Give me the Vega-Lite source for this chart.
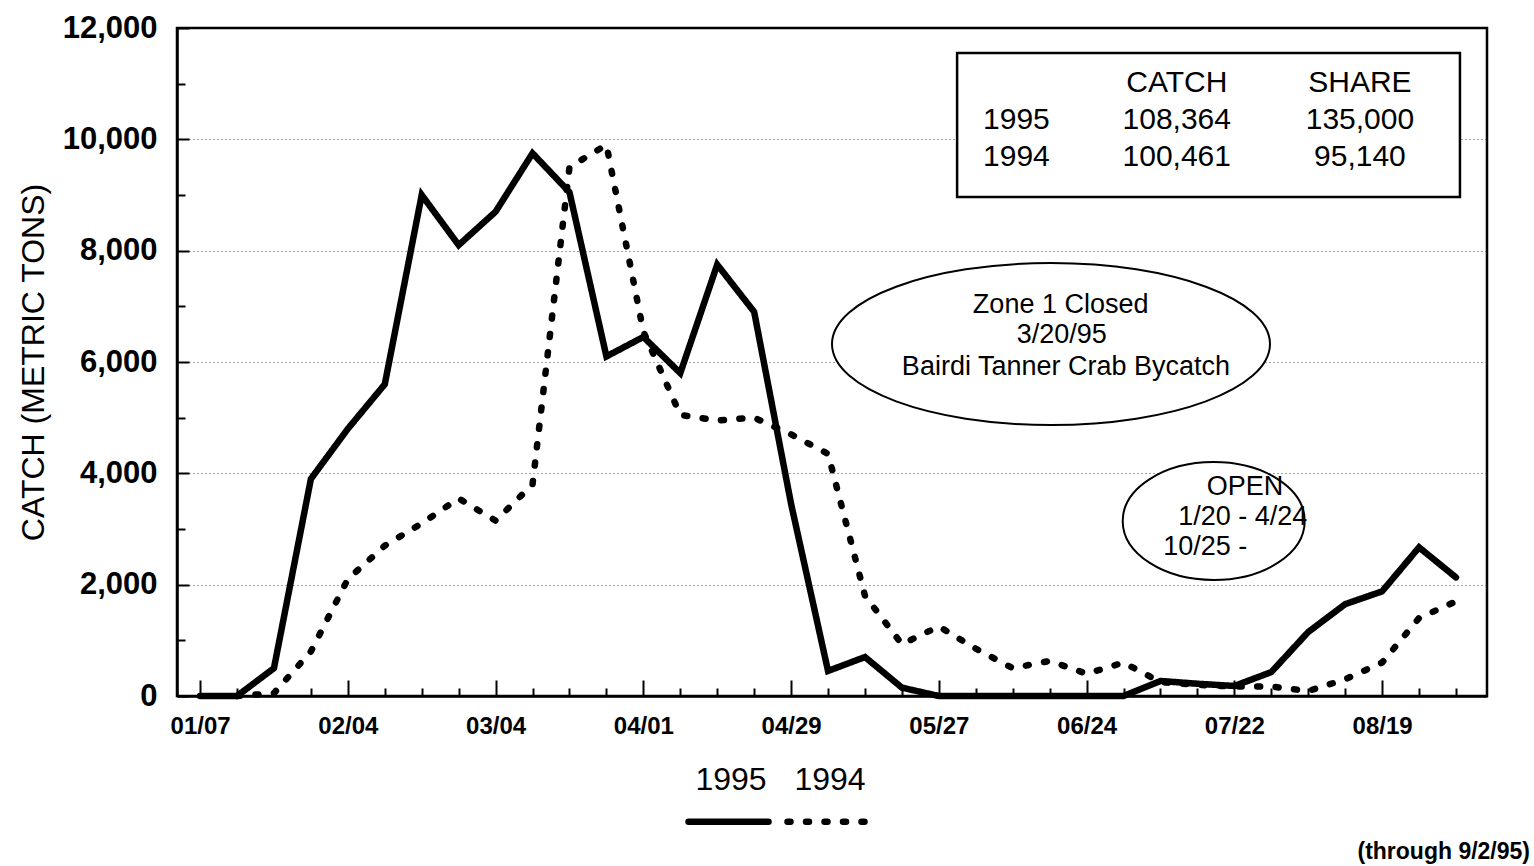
{
  "$schema": "https://vega.github.io/schema/vega-lite/v6.json",
  "width": 1310,
  "height": 668,
  "autosize": "none",
  "padding": {"left": 177, "top": 28, "right": 47, "bottom": 170},
  "background": "white",
  "config": {
    "font": "Liberation Sans",
    "view": {"stroke": "black", "strokeWidth": 2.5},
    "axis": {"domainColor": "black", "domainWidth": 2.5, "tickColor": "black", "tickWidth": 2, "labelColor": "black", "titleColor": "black"}
  },
  "title": {"text": "(through 9/2/95)", "orient": "bottom", "anchor": "end", "frame": "group", "fontSize": 23, "fontWeight": "bold", "color": "black", "dx": 43, "offset": 6},
  "datasets": {
    "catch": [
      {"date": "1995-01-07", "year": "1995", "value": 0},
      {"date": "1995-01-14", "year": "1995", "value": 0},
      {"date": "1995-01-21", "year": "1995", "value": 500},
      {"date": "1995-01-28", "year": "1995", "value": 3900},
      {"date": "1995-02-04", "year": "1995", "value": 4800},
      {"date": "1995-02-11", "year": "1995", "value": 5600},
      {"date": "1995-02-18", "year": "1995", "value": 9000},
      {"date": "1995-02-25", "year": "1995", "value": 8100},
      {"date": "1995-03-04", "year": "1995", "value": 8700},
      {"date": "1995-03-11", "year": "1995", "value": 9750},
      {"date": "1995-03-18", "year": "1995", "value": 9050},
      {"date": "1995-03-25", "year": "1995", "value": 6100},
      {"date": "1995-04-01", "year": "1995", "value": 6450},
      {"date": "1995-04-08", "year": "1995", "value": 5800},
      {"date": "1995-04-15", "year": "1995", "value": 7750},
      {"date": "1995-04-22", "year": "1995", "value": 6900},
      {"date": "1995-04-29", "year": "1995", "value": 3450},
      {"date": "1995-05-06", "year": "1995", "value": 450},
      {"date": "1995-05-13", "year": "1995", "value": 700},
      {"date": "1995-05-20", "year": "1995", "value": 150},
      {"date": "1995-05-27", "year": "1995", "value": 0},
      {"date": "1995-06-03", "year": "1995", "value": 0},
      {"date": "1995-06-10", "year": "1995", "value": 0},
      {"date": "1995-06-17", "year": "1995", "value": 0},
      {"date": "1995-06-24", "year": "1995", "value": 0},
      {"date": "1995-07-01", "year": "1995", "value": 0},
      {"date": "1995-07-08", "year": "1995", "value": 270},
      {"date": "1995-07-15", "year": "1995", "value": 220},
      {"date": "1995-07-22", "year": "1995", "value": 180},
      {"date": "1995-07-29", "year": "1995", "value": 430},
      {"date": "1995-08-05", "year": "1995", "value": 1150},
      {"date": "1995-08-12", "year": "1995", "value": 1650},
      {"date": "1995-08-19", "year": "1995", "value": 1880},
      {"date": "1995-08-26", "year": "1995", "value": 2670},
      {"date": "1995-09-02", "year": "1995", "value": 2130},
      {"date": "1995-01-14", "year": "1994", "value": 0},
      {"date": "1995-01-21", "year": "1994", "value": 50},
      {"date": "1995-01-28", "year": "1994", "value": 800},
      {"date": "1995-02-04", "year": "1994", "value": 2100},
      {"date": "1995-02-11", "year": "1994", "value": 2700},
      {"date": "1995-02-18", "year": "1994", "value": 3100},
      {"date": "1995-02-25", "year": "1994", "value": 3550},
      {"date": "1995-03-04", "year": "1994", "value": 3150},
      {"date": "1995-03-11", "year": "1994", "value": 3800},
      {"date": "1995-03-18", "year": "1994", "value": 9500},
      {"date": "1995-03-25", "year": "1994", "value": 9900},
      {"date": "1995-04-01", "year": "1994", "value": 6550},
      {"date": "1995-04-08", "year": "1994", "value": 5050},
      {"date": "1995-04-15", "year": "1994", "value": 4950},
      {"date": "1995-04-22", "year": "1994", "value": 5000},
      {"date": "1995-04-29", "year": "1994", "value": 4700},
      {"date": "1995-05-06", "year": "1994", "value": 4350},
      {"date": "1995-05-13", "year": "1994", "value": 1800},
      {"date": "1995-05-20", "year": "1994", "value": 930},
      {"date": "1995-05-27", "year": "1994", "value": 1250},
      {"date": "1995-06-03", "year": "1994", "value": 850},
      {"date": "1995-06-10", "year": "1994", "value": 500},
      {"date": "1995-06-17", "year": "1994", "value": 630},
      {"date": "1995-06-24", "year": "1994", "value": 400},
      {"date": "1995-07-01", "year": "1994", "value": 600},
      {"date": "1995-07-08", "year": "1994", "value": 250},
      {"date": "1995-07-15", "year": "1994", "value": 200},
      {"date": "1995-07-22", "year": "1994", "value": 170},
      {"date": "1995-07-29", "year": "1994", "value": 170},
      {"date": "1995-08-05", "year": "1994", "value": 90},
      {"date": "1995-08-12", "year": "1994", "value": 300},
      {"date": "1995-08-19", "year": "1994", "value": 600},
      {"date": "1995-08-26", "year": "1994", "value": 1400},
      {"date": "1995-09-02", "year": "1994", "value": 1700}
    ],
    "box": [
      {"date": "1995-05-30T11:00Z", "date2": "1995-09-02T18:00Z", "value": 11551, "value2": 8964}
    ],
    "ovals": [
      {"name": "zone", "date": "1995-06-17T06:00Z", "value": 6323},
      {"name": "open", "date": "1995-07-18T02:00Z", "value": 3144}
    ],
    "notes": [
      {"group": "table", "date": "1995-07-11T02:00Z", "value": 11012, "label": "CATCH"},
      {"group": "table", "date": "1995-08-14T19:00Z", "value": 11012, "label": "SHARE"},
      {"group": "table", "date": "1995-07-11T02:00Z", "value": 10347, "label": "108,364"},
      {"group": "table", "date": "1995-08-14T19:00Z", "value": 10347, "label": "135,000"},
      {"group": "table", "date": "1995-07-11T02:00Z", "value": 9683, "label": "100,461"},
      {"group": "table", "date": "1995-08-14T19:00Z", "value": 9683, "label": "95,140"},
      {"group": "tableyear", "date": "1995-06-04T09:00Z", "value": 10347, "label": "1995"},
      {"group": "tableyear", "date": "1995-06-04T09:00Z", "value": 9683, "label": "1994"},
      {"group": "zone", "date": "1995-06-19T02:00Z", "value": 7024, "label": "Zone 1 Closed"},
      {"group": "zone", "date": "1995-06-19T07:00Z", "value": 6485, "label": "3/20/95"},
      {"group": "zone", "date": "1995-06-20T02:00Z", "value": 5910, "label": "Bairdi Tanner Crab Bycatch"},
      {"group": "open", "date": "1995-07-24T00:00Z", "value": 3754, "label": "OPEN"},
      {"group": "open", "date": "1995-07-23T14:00Z", "value": 3216, "label": "1/20 - 4/24"},
      {"group": "openleft", "date": "1995-07-08T12:00Z", "value": 2677, "label": "10/25 -"}
    ]
  },
  "encoding": {
    "x": {
      "field": "date",
      "type": "temporal",
      "title": null,
      "scale": {
        "type": "utc",
        "domain": [
          {"year": 1995, "month": 1, "date": 2, "hours": 15, "utc": true},
          {"year": 1995, "month": 9, "date": 7, "hours": 21, "utc": true}
        ]
      },
      "axis": {
        "values": [
          {"year": 1995, "month": 1, "date": 7, "utc": true},
          {"year": 1995, "month": 1, "date": 14, "utc": true},
          {"year": 1995, "month": 1, "date": 21, "utc": true},
          {"year": 1995, "month": 1, "date": 28, "utc": true},
          {"year": 1995, "month": 2, "date": 4, "utc": true},
          {"year": 1995, "month": 2, "date": 11, "utc": true},
          {"year": 1995, "month": 2, "date": 18, "utc": true},
          {"year": 1995, "month": 2, "date": 25, "utc": true},
          {"year": 1995, "month": 3, "date": 4, "utc": true},
          {"year": 1995, "month": 3, "date": 11, "utc": true},
          {"year": 1995, "month": 3, "date": 18, "utc": true},
          {"year": 1995, "month": 3, "date": 25, "utc": true},
          {"year": 1995, "month": 4, "date": 1, "utc": true},
          {"year": 1995, "month": 4, "date": 8, "utc": true},
          {"year": 1995, "month": 4, "date": 15, "utc": true},
          {"year": 1995, "month": 4, "date": 22, "utc": true},
          {"year": 1995, "month": 4, "date": 29, "utc": true},
          {"year": 1995, "month": 5, "date": 6, "utc": true},
          {"year": 1995, "month": 5, "date": 13, "utc": true},
          {"year": 1995, "month": 5, "date": 20, "utc": true},
          {"year": 1995, "month": 5, "date": 27, "utc": true},
          {"year": 1995, "month": 6, "date": 3, "utc": true},
          {"year": 1995, "month": 6, "date": 10, "utc": true},
          {"year": 1995, "month": 6, "date": 17, "utc": true},
          {"year": 1995, "month": 6, "date": 24, "utc": true},
          {"year": 1995, "month": 7, "date": 1, "utc": true},
          {"year": 1995, "month": 7, "date": 8, "utc": true},
          {"year": 1995, "month": 7, "date": 15, "utc": true},
          {"year": 1995, "month": 7, "date": 22, "utc": true},
          {"year": 1995, "month": 7, "date": 29, "utc": true},
          {"year": 1995, "month": 8, "date": 5, "utc": true},
          {"year": 1995, "month": 8, "date": 12, "utc": true},
          {"year": 1995, "month": 8, "date": 19, "utc": true},
          {"year": 1995, "month": 8, "date": 26, "utc": true},
          {"year": 1995, "month": 9, "date": 2, "utc": true}
        ],
        "labelExpr": "(round((datum.value - utc(1995,0,7)) / 604800000) % 4 === 0) ? utcFormat(datum.value, '%m/%d') : ''",
        "tickSize": {"condition": {"test": "round((datum.value - utc(1995,0,7)) / 604800000) % 4 === 0", "value": -16}, "value": -8},
        "grid": false,
        "labelOverlap": false,
        "labelFlush": false,
        "labelFontSize": 24,
        "labelFontWeight": "bold",
        "labelPadding": 34
      }
    },
    "y": {
      "field": "value",
      "type": "quantitative",
      "title": "CATCH (METRIC TONS)",
      "scale": {"domain": [0, 12000], "nice": false, "zero": true},
      "axis": {
        "values": [0, 1000, 2000, 3000, 4000, 5000, 6000, 7000, 8000, 9000, 10000, 11000, 12000],
        "labelExpr": "datum.value % 2000 === 0 ? format(datum.value, ',') : ''",
        "tickSize": {"condition": {"test": "datum.value % 2000 === 0", "value": -12}, "value": -8},
        "grid": true,
        "gridColor": "#333333",
        "gridDash": [1, 3],
        "gridWidth": 1,
        "gridOpacity": {"condition": {"test": "datum.value % 2000 === 0 && datum.value > 0 && datum.value < 12000", "value": 0.9}, "value": 0},
        "labelFontSize": 31,
        "labelFontWeight": "bold",
        "labelPadding": 32,
        "labelOverlap": false,
        "titleFontSize": 32,
        "titleFontWeight": "normal",
        "titlePadding": 12
      }
    }
  },
  "layer": [
    {
      "data": {"name": "box"},
      "mark": {"type": "rect", "fill": "white", "stroke": "black", "strokeWidth": 2.5},
      "encoding": {
        "x2": {"field": "date2"},
        "y2": {"field": "value2"}
      }
    },
    {
      "data": {"name": "ovals"},
      "transform": [{"filter": "datum.name === 'zone'"}],
      "mark": {"type": "point", "shape": "M -1 0 A 1 0.37 0 1 1 1 0 A 1 0.37 0 1 1 -1 0 Z", "size": 191844, "filled": true, "fill": "white", "stroke": "black", "strokeWidth": 2, "opacity": 1}
    },
    {
      "data": {"name": "ovals"},
      "transform": [{"filter": "datum.name === 'open'"}],
      "mark": {"type": "point", "shape": "M -1 0 A 1 0.648 0 1 1 1 0 A 1 0.648 0 1 1 -1 0 Z", "size": 33124, "filled": true, "fill": "white", "stroke": "black", "strokeWidth": 2, "opacity": 1}
    },
    {
      "data": {"name": "catch"},
      "mark": {"type": "line", "color": "black", "strokeWidth": 6.5, "strokeCap": "round", "strokeJoin": "miter"},
      "encoding": {
        "strokeDash": {
          "field": "year",
          "type": "nominal",
          "scale": {"domain": ["1995", "1994"], "range": [[1, 0], [3, 15.5]]},
          "legend": {
            "orient": "none",
            "legendX": 508,
            "legendY": 750,
            "direction": "horizontal",
            "title": null,
            "padding": 0,
            "symbolType": "stroke",
            "symbolSize": 6400,
            "symbolStrokeWidth": 6.5,
            "symbolStrokeColor": "black",
            "labelFontSize": 32,
            "labelFont": "Liberation Sans",
            "labelColor": "black",
            "labelOffset": 0,
            "labelAlign": "center",
            "columnPadding": -8,
            "encode": {
              "labels": {"update": {"dx": {"value": -41}, "dy": {"value": -42}}},
              "symbols": {"update": {"strokeCap": {"value": "round"}}}
            }
          }
        }
      }
    },
    {
      "data": {"name": "notes"},
      "transform": [{"filter": "datum.group === 'table'"}],
      "mark": {"type": "text", "fontSize": 30, "align": "center", "baseline": "middle", "color": "black"},
      "encoding": {"text": {"field": "label"}}
    },
    {
      "data": {"name": "notes"},
      "transform": [{"filter": "datum.group === 'tableyear'"}],
      "mark": {"type": "text", "fontSize": 30, "align": "left", "baseline": "middle", "color": "black"},
      "encoding": {"text": {"field": "label"}}
    },
    {
      "data": {"name": "notes"},
      "transform": [{"filter": "datum.group === 'zone'"}],
      "mark": {"type": "text", "fontSize": 27, "align": "center", "baseline": "middle", "color": "black"},
      "encoding": {"text": {"field": "label"}}
    },
    {
      "data": {"name": "notes"},
      "transform": [{"filter": "datum.group === 'open'"}],
      "mark": {"type": "text", "fontSize": 27, "align": "center", "baseline": "middle", "color": "black"},
      "encoding": {"text": {"field": "label"}}
    },
    {
      "data": {"name": "notes"},
      "transform": [{"filter": "datum.group === 'openleft'"}],
      "mark": {"type": "text", "fontSize": 27, "align": "left", "baseline": "middle", "color": "black"},
      "encoding": {"text": {"field": "label"}}
    }
  ]
}
